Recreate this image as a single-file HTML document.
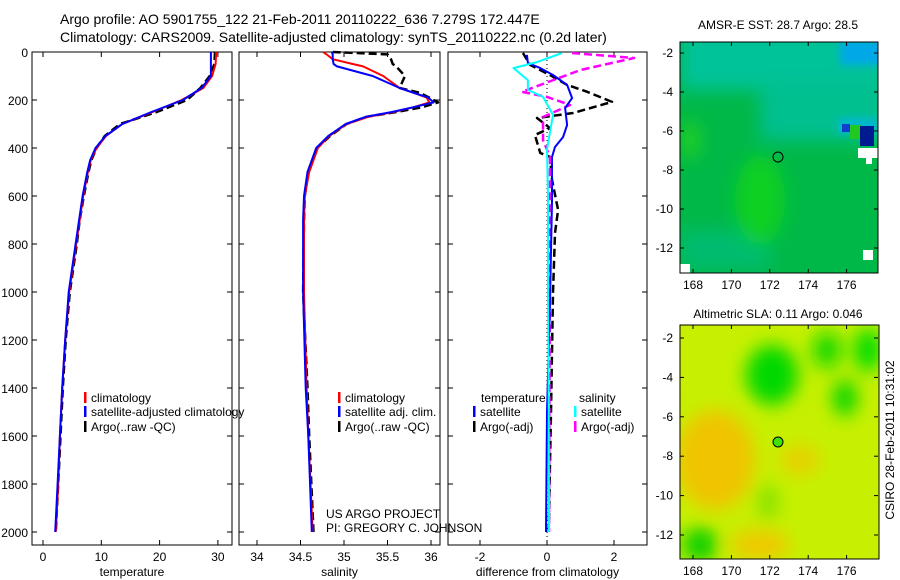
<!DOCTYPE html>
<html><head><meta charset="utf-8"><style>
html,body{margin:0;padding:0;background:#fff;}
svg{display:block;font-family:"Liberation Sans",sans-serif;}
</style></head><body>
<svg id="c" width="900" height="580" viewBox="0 0 900 580">
<defs>
<filter id="bl" x="-50%" y="-50%" width="200%" height="200%"><feGaussianBlur stdDeviation="9"/></filter>
<filter id="bl2" x="-50%" y="-50%" width="200%" height="200%"><feGaussianBlur stdDeviation="4"/></filter>
<clipPath id="cm1"><rect x="680" y="42" width="198" height="231"/></clipPath>
<clipPath id="cm2"><rect x="680" y="325" width="199" height="234"/></clipPath>
</defs>
<g font-size="14">
<text x="60" y="24">Argo profile: AO 5901755_122 21-Feb-2011 20110222_636 7.279S 172.447E</text>
<text x="60" y="42">Climatology: CARS2009. Satellite-adjusted climatology: synTS_20110222.nc (0.2d later)</text>
</g>
<g id="plots"></g>

<!-- top map -->
<g>
<text x="778" y="29" font-size="12" text-anchor="middle">AMSR-E SST: 28.7 Argo: 28.5</text>
<g clip-path="url(#cm1)">
<rect x="680" y="42" width="198" height="231" fill="#00b848"/>
<g filter="url(#bl)">
<rect x="680" y="30" width="210" height="60" fill="#00c39a"/>
<rect x="760" y="80" width="130" height="60" fill="#00c090"/>
<rect x="680" y="230" width="90" height="40" fill="#00bb70"/>
<ellipse cx="760" cy="200" rx="25" ry="45" fill="#10d020"/>
<ellipse cx="690" cy="140" rx="10" ry="20" fill="#20d020"/>
</g>
<g filter="url(#bl2)">
<rect x="840" y="40" width="45" height="25" fill="#00a8e8"/>
<rect x="838" y="118" width="40" height="16" fill="#00b8d0"/>
</g>
<rect x="842" y="124" width="8" height="8" fill="#1040d0"/>
<rect x="850" y="125" width="12" height="14" fill="#20c820"/>
<rect x="860" y="126" width="14" height="20" fill="#001a90"/>
<rect x="858" y="148" width="20" height="10" fill="#fff"/>
<rect x="866" y="154" width="6" height="10" fill="#fff"/>
<rect x="680" y="264" width="10" height="9" fill="#fff"/>
<rect x="863" y="250" width="10" height="10" fill="#fff"/>
</g>
<rect x="680" y="42" width="198" height="231" fill="none" stroke="#000"/>
<circle cx="778" cy="157" r="5" fill="none" stroke="#000"/>
<g id="m1ax" font-size="12"></g>
</g>

<!-- bottom map -->
<g>
<text x="778" y="318" font-size="12" text-anchor="middle">Altimetric SLA: 0.11 Argo: 0.046</text>
<g clip-path="url(#cm2)">
<rect x="680" y="325" width="199" height="234" fill="#c6f000"/>
<g filter="url(#bl)">
<ellipse cx="715" cy="460" rx="40" ry="50" fill="#f0c400"/>
<ellipse cx="760" cy="545" rx="30" ry="15" fill="#f0c800"/>
<ellipse cx="800" cy="460" rx="20" ry="15" fill="#e8d000"/>
<ellipse cx="772" cy="375" rx="26" ry="30" fill="#00d800"/>
<ellipse cx="827" cy="350" rx="14" ry="18" fill="#10d800"/>
<ellipse cx="845" cy="398" rx="12" ry="18" fill="#00d400"/>
<ellipse cx="868" cy="350" rx="14" ry="22" fill="#00dd00"/>
<ellipse cx="700" cy="545" rx="18" ry="18" fill="#10d000"/>
<ellipse cx="768" cy="502" rx="10" ry="18" fill="#80e000"/>
</g>
</g>
<rect x="680" y="325" width="199" height="234" fill="none" stroke="#000"/>
<circle cx="778" cy="442" r="5" fill="#40e000" stroke="#000"/>
<g id="m2ax" font-size="12"></g>
<text transform="translate(894,440) rotate(-90)" font-size="12" text-anchor="middle">CSIRO 28-Feb-2011 10:31:02</text>
</g>
</svg>
<script>
const NS='http://www.w3.org/2000/svg';
// ---- data ----
const depthTicks=[0,200,400,600,800,1000,1200,1400,1600,1800,2000];
const tempTicks=[0,10,20,30];
const salTicks=[34,34.5,35,35.5,36];
const salTickLabels=['34','34.5','35','35.5','36'];
const diffTicks=[-2,0,2];
const tDepth=[0,50,100,150,200,250,300,350,400,450,500,600,700,800,1000,1200,1400,1600,1800,2000];
const tempArgo=[29.5,29.4,28.6,27.0,24.7,19.5,13.2,10.6,9.2,8.3,7.8,7.0,6.3,5.8,4.6,3.9,3.4,3.0,2.6,2.2];
const tempClim=[29.7,29.6,29.0,27.5,23.8,18.8,13.6,10.8,9.2,8.2,7.7,6.9,6.3,5.7,4.5,3.8,3.3,2.9,2.6,2.2];
const tempSat=[28.8,28.8,28.8,27.2,24.0,18.6,13.6,10.7,9.0,8.1,7.6,6.8,6.2,5.6,4.4,3.8,3.3,2.9,2.5,2.1];
const sDepth=[0,10,30,50,60,100,150,170,190,210,230,250,270,300,350,400,500,600,700,1000,1400,1600,2000];
const salArgo=[34.87,35.5,35.54,35.56,35.6,35.7,35.64,35.87,35.98,36.08,35.9,35.6,35.26,35.03,34.84,34.69,34.59,34.55,34.54,34.53,34.58,34.6,34.65];
const salClim=[34.76,34.8,34.87,35.1,35.22,35.45,35.64,35.8,35.95,35.98,35.8,35.57,35.28,35.03,34.83,34.7,34.6,34.55,34.54,34.54,34.57,34.59,34.64];
const salSat=[34.86,34.87,34.87,34.88,34.92,35.33,35.64,35.8,35.97,36.03,35.8,35.55,35.25,35.02,34.82,34.68,34.58,34.54,34.53,34.53,34.56,34.59,34.63];
const dDepthTA=[4,54,96,137,166,208,254,275,317,346,421,437,533,658,754,1004,1500,2000];
const diffTempArgo=[-0.72,-0.5,0.09,0.6,1.2,1.94,0.78,-0.3,0.09,-0.36,-0.2,0.09,0.15,0.33,0.24,0.18,0.12,0.05];
const dDepthTS=[12,46,67,96,137,192,233,304,354,396,437,620,1040,1500,2000];
const diffTempSat=[-0.6,-0.57,-0.2,0.18,0.6,0.75,0.54,0.6,0.48,0.24,0.15,0.15,0.09,0.0,-0.03];
const dDepthSS=[4,42,67,117,158,187,262,333,408,600,1000,1500,2000];
const diffSalSat=[0.45,-0.3,-1.0,-0.57,-0.57,-0.12,0.18,0.09,0.0,0.03,0.03,0.05,0.06];
const dDepthSA=[4,25,75,137,166,187,221,271,367,437,754,1200,2000];
const diffSalArgo=[0.75,2.6,1.0,-0.2,-0.75,0.0,0.69,-0.12,-0.12,0.09,0.09,0.08,0.06];
const lonTicks=[168,170,172,174,176];
const latTicks=[-2,-4,-6,-8,-10,-12];

// ---- axes ----
const yD=d=>52+d*0.24;
const xT=v=>43+v*5.83;
const xS=v=>257+(v-34)*87;
const xDf=v=>547+v*33.5;
const P=document.getElementById('plots');
function el(tag,attrs,parent){const e=document.createElementNS(NS,tag);for(const k in attrs)e.setAttribute(k,attrs[k]);(parent||P).appendChild(e);return e;}
function line(xs,ys,fx,color,dash,name,parent){
  const pts=xs.map((v,i)=>fx(v).toFixed(1)+','+yD(ys[i]).toFixed(1)).join(' ');
  const p=el('polyline',{points:pts,fill:'none',stroke:color,'stroke-width':dash?2.5:2,'stroke-dasharray':dash||'none','stroke-linejoin':'round'},parent);
  
  
}
function panel(x0,x1,name,ticks,labels,fx,xlabel,showY){
  const g=el('g',{});
  
  
  const fr=el('rect',{x:x0,y:52,width:x1-x0,height:493,fill:'none',stroke:'#000'},g);
  
  
  depthTicks.forEach(d=>{
    el('line',{x1:x0,x2:x0+5,y1:yD(d),y2:yD(d),stroke:'#000'},g);
    el('line',{x1:x1-5,x2:x1,y1:yD(d),y2:yD(d),stroke:'#000'},g);
    if(showY){const t=el('text',{x:28,y:yD(d)+5,'font-size':12,'text-anchor':'end'},g);t.textContent=d;
      
      }
  });
  ticks.forEach((v,i)=>{
    el('line',{x1:fx(v),x2:fx(v),y1:52,y2:57,stroke:'#000'},g);
    el('line',{x1:fx(v),x2:fx(v),y1:540,y2:545,stroke:'#000'},g);
    const t=el('text',{x:fx(v),y:561,'font-size':12,'text-anchor':'middle'},g);t.textContent=labels[i];
    
    
  });
  const xl=el('text',{x:(x0+x1)/2,y:576,'font-size':12,'text-anchor':'middle'},g);xl.textContent=xlabel;
  
  
  return g;
}
function legend(g,x,y,color,text,name){
  if(color) el('rect',{x:x,y:y-10,width:2.5,height:11,fill:color},g);
  const t=el('text',{x:x+7,y:y,'font-size':12},g);t.textContent=text;
  
  
}
// temperature
const g1=panel(32,232,'temperature-panel',tempTicks,tempTicks.map(String),xT,'temperature',true);
line(tempArgo,tDepth,xT,'#000','8,4','temp-argo-line',g1);
line(tempClim,tDepth,xT,'#f00',null,'temp-climatology-line',g1);
line(tempSat,tDepth,xT,'#00f',null,'temp-satellite-line',g1);
legend(g1,84,402,'#f00','climatology','legend-climatology');
legend(g1,84,416,'#00f','satellite-adjusted climatology','legend-satellite-adjusted');
legend(g1,84,431,'#000','Argo(..raw -QC)','legend-argo');
// salinity
const g2=panel(239,440,'salinity-panel',salTicks,salTickLabels,xS,'salinity',false);
line(salArgo,sDepth,xS,'#000','8,4','sal-argo-line',g2);
line(salClim,sDepth,xS,'#f00',null,'sal-climatology-line',g2);
line(salSat,sDepth,xS,'#00f',null,'sal-satellite-line',g2);
legend(g2,338,402,'#f00','climatology','legend-climatology');
legend(g2,338,416,'#00f','satellite adj. clim.','legend-satellite-adj');
legend(g2,338,431,'#000','Argo(..raw -QC)','legend-argo');
const c1=el('text',{x:326,y:518,'font-size':12},g2);c1.textContent='US ARGO PROJECT';


const c2=el('text',{x:326,y:532,'font-size':12},g2);c2.textContent='PI: GREGORY C. JOHNSON';


// difference
const g3=panel(448,647,'difference-panel',diffTicks,diffTicks.map(String),xDf,'difference from climatology',false);
el('line',{x1:xDf(0),x2:xDf(0),y1:52,y2:545,stroke:'#000','stroke-dasharray':'1,3'},g3);
line(diffTempArgo,dDepthTA,xDf,'#000','8,4','diff-temp-argo-line',g3);
line(diffSalArgo,dDepthSA,xDf,'#f0f','8,4','diff-sal-argo-line',g3);
line(diffTempSat,dDepthTS,xDf,'#00f',null,'diff-temp-satellite-line',g3);
line(diffSalSat,dDepthSS,xDf,'#0ff',null,'diff-sal-satellite-line',g3);
legend(g3,474,402,null,'temperature','legend-temperature-heading');
legend(g3,572,402,null,'salinity','legend-salinity-heading');
legend(g3,473,416,'#00f','satellite','legend-temp-satellite');
legend(g3,473,431,'#000','Argo(-adj)','legend-temp-argo');
legend(g3,574,416,'#0ff','satellite','legend-sal-satellite');
legend(g3,574,431,'#f0f','Argo(-adj)','legend-sal-argo');
// map axes
function mapAxes(id,y0,y1,latY){
  const g=document.getElementById(id);
  const xL=v=>693+(v-168)*19.2;
  lonTicks.forEach(v=>{
    el('line',{x1:xL(v),x2:xL(v),y1:y0,y2:y0+4,stroke:'#000'},g);
    el('line',{x1:xL(v),x2:xL(v),y1:y1-4,y2:y1,stroke:'#000'},g);
    const t=el('text',{x:xL(v),y:y1+16,'text-anchor':'middle'},g);t.textContent=v;
    
    
  });
  latTicks.forEach(v=>{
    const y=latY(v);
    el('line',{x1:680,x2:684,y1:y,y2:y,stroke:'#000'},g);
    el('line',{x1:874,x2:878,y1:y,y2:y,stroke:'#000'},g);
    const t=el('text',{x:673,y:y+4,'text-anchor':'end'},g);t.textContent=v;
    
    
  });
}
mapAxes('m1ax',42,273,v=>53+(-2-v)*19.5);
mapAxes('m2ax',325,559,v=>338+(-2-v)*19.7);
</script>
</body></html>
